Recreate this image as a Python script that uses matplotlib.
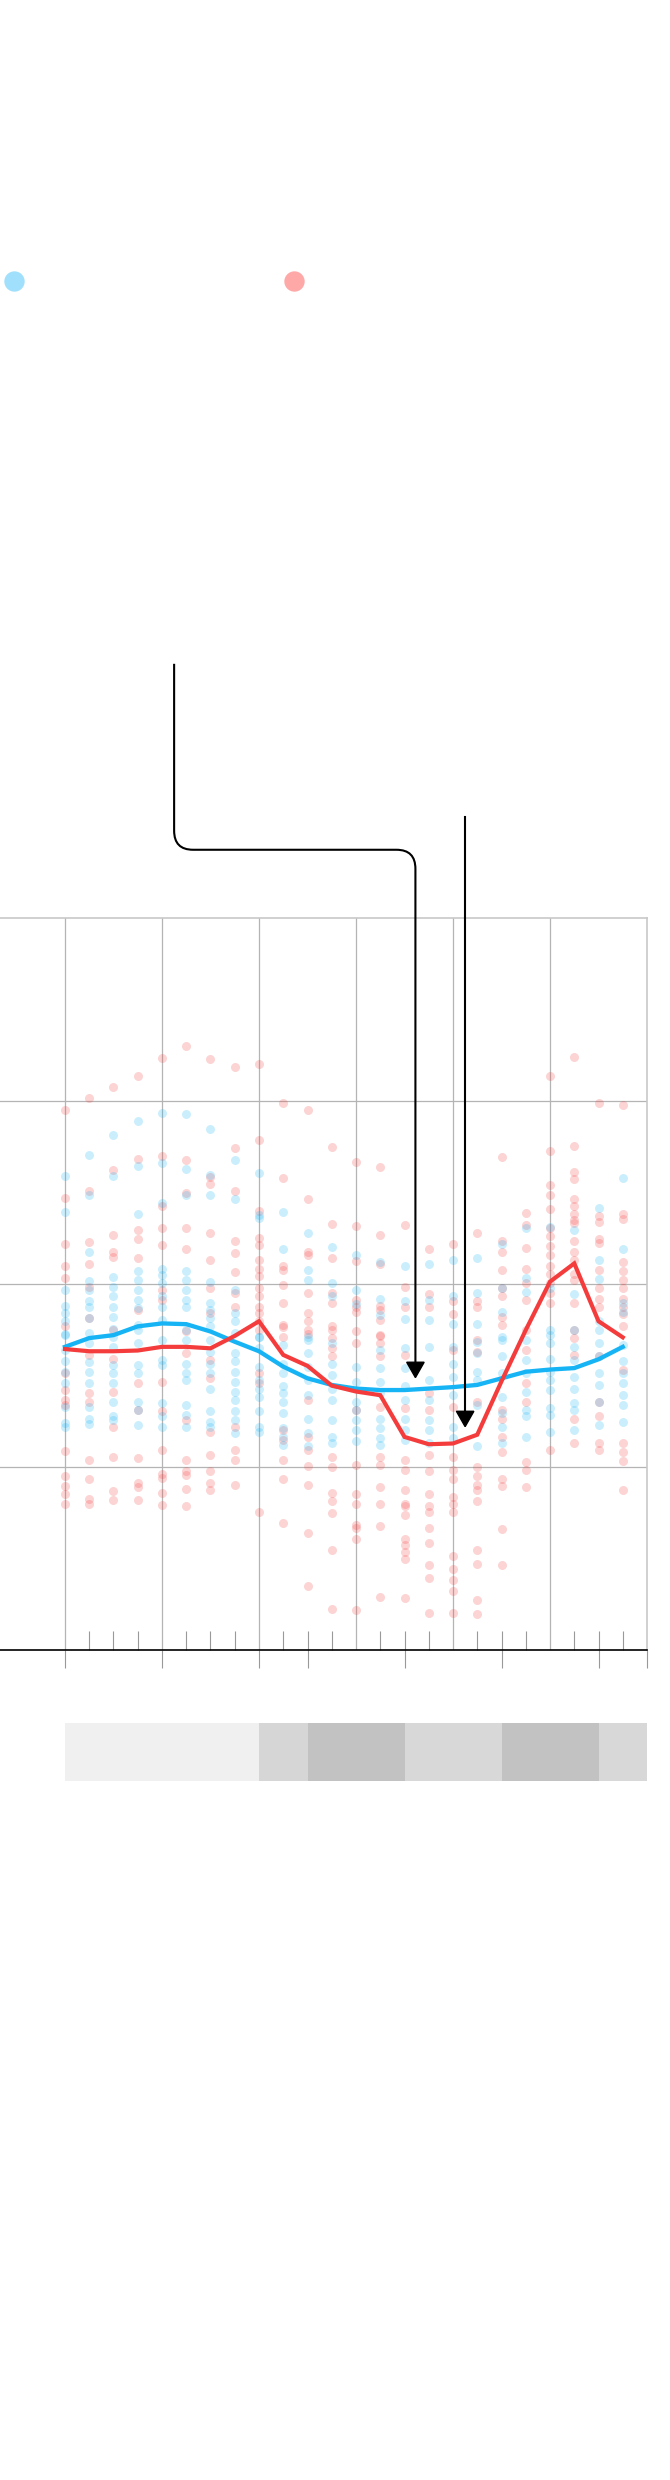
import numpy as np
import matplotlib
matplotlib.use("Agg")
from matplotlib import pyplot as plt
from matplotlib.path import Path
from matplotlib.patches import PathPatch, Polygon

# hourly averages
hours = np.arange(24)
blue_line = [41.4, 42.6, 43.0, 44.2, 44.6, 44.5, 43.5, 42.1, 40.8, 38.7, 37.1, 36.2,
             35.7, 35.5, 35.5, 35.7, 35.9, 36.2, 37.1, 38.0, 38.3, 38.5, 39.7, 41.4]
red_line = [41.1, 40.8, 40.8, 40.9, 41.4, 41.4, 41.2, 42.9, 44.9, 40.3, 38.8, 36.1,
            35.3, 34.8, 29.1, 28.1, 28.2, 29.4, 36.7, 43.7, 50.3, 52.8, 44.9, 42.7]

# individual readings per hour
red_pts = [
    [73.7, 61.7, 55.5, 52.4, 50.8, 44.2, 37.8, 35.5, 34.1, 33.5, 27.2, 23.8, 22.4, 21.3, 20.0],
    [75.4, 62.7, 55.7, 52.7, 49.6, 45.3, 40.3, 35.1, 33.9, 26.0, 23.3, 20.6, 20.0],
    [76.9, 65.5, 56.7, 54.3, 53.7, 43.7, 39.8, 35.3, 30.5, 26.4, 21.7, 20.5],
    [78.4, 67.1, 57.3, 56.1, 53.6, 46.4, 36.4, 32.8, 26.2, 22.8, 22.3, 20.5],
    [80.9, 67.5, 60.7, 57.7, 55.3, 49.2, 47.8, 36.6, 32.6, 27.3, 24.1, 23.5, 21.5, 19.8],
    [82.5, 66.9, 62.4, 57.7, 54.7, 43.5, 40.5, 31.4, 26.0, 24.4, 23.9, 22.0, 19.6],
    [80.7, 64.6, 63.6, 57.0, 53.3, 49.4, 46.0, 39.6, 37.1, 29.8, 26.6, 24.4, 22.8, 21.9],
    [79.6, 68.5, 62.7, 55.9, 54.2, 51.6, 48.7, 46.9, 30.5, 27.3, 25.9, 22.5],
    [80.0, 69.7, 59.9, 56.3, 55.3, 53.2, 52.1, 51.1, 49.5, 48.4, 46.9, 46.0, 44.9, 43.7,
     37.8, 36.4, 18.8],
    [74.7, 64.5, 52.4, 51.9, 49.9, 47.4, 44.4, 44.1, 42.8, 30.0, 28.7, 26.0, 23.3, 17.3],
    [73.7, 61.6, 54.4, 54.0, 48.7, 46.0, 44.9, 43.7, 43.2, 34.1, 29.1, 27.3, 25.1, 22.5,
     16.0, 8.8],
    [68.7, 58.2, 53.6, 48.7, 47.4, 44.2, 42.6, 43.7, 41.2, 40.1, 26.3, 25.0, 21.4, 20.4,
     18.7, 13.6, 5.6],
    [66.7, 57.9, 53.1, 47.8, 46.9, 46.2, 43.5, 41.9, 32.8, 25.3, 21.3, 20.0, 17.1, 16.6,
     15.2, 5.5],
    [65.9, 56.7, 52.7, 47.0, 46.4, 45.1, 42.9, 43.0, 41.9, 40.1, 33.2, 26.4, 25.3, 22.3,
     20.0, 16.9, 7.2],
    [58.0, 49.6, 46.8, 40.3, 33.0, 26.0, 24.6, 21.9, 20.0, 19.6, 18.4, 15.1, 14.4, 13.4,
     12.4, 7.1],
    [54.7, 48.6, 46.8, 35.1, 32.8, 26.6, 24.4, 21.3, 19.6, 18.9, 16.6, 14.6, 11.6, 9.8, 5.0],
    [55.5, 47.6, 45.9, 41.0, 33.2, 26.4, 24.6, 23.4, 20.9, 20.0, 18.9, 12.8, 11.0, 9.6,
     8.1, 5.0],
    [57.0, 47.6, 46.9, 42.3, 40.7, 33.9, 25.0, 23.7, 22.5, 21.9, 20.4, 13.7, 11.8, 6.8, 4.9],
    [67.4, 55.8, 54.3, 51.9, 49.4, 48.3, 45.5, 44.4, 32.8, 31.6, 29.1, 27.1, 23.4, 22.4,
     16.5, 11.6],
    [59.7, 58.0, 54.9, 52.1, 50.1, 47.8, 43.7, 41.0, 36.4, 33.9, 25.7, 24.6, 22.3],
    [78.4, 68.2, 63.5, 62.2, 60.2, 57.7, 56.5, 55.2, 54.0, 52.5, 51.4, 50.1, 48.7, 47.4, 27.3],
    [81.0, 68.8, 65.3, 64.3, 61.6, 60.7, 59.5, 58.7, 58.3, 55.9, 54.4, 53.2, 51.4, 50.5,
     47.4, 43.7, 42.6, 40.3, 31.6, 28.2],
    [74.7, 59.3, 58.4, 56.1, 55.6, 51.9, 49.4, 48.0, 46.9, 40.1, 33.9, 31.9, 28.2, 27.3],
    [74.5, 59.6, 58.8, 53.0, 51.8, 50.5, 49.5, 48.0, 46.9, 45.9, 44.2, 38.2, 28.2, 27.1,
     25.8, 21.9],
]
blue_pts = [
    [64.7, 59.8, 49.1, 47.0, 46.0, 44.9, 43.0, 43.2, 41.0, 39.4, 38.0, 36.4, 33.2, 31.0, 30.5],
    [67.6, 62.1, 54.4, 50.4, 49.2, 47.6, 46.9, 45.3, 43.3, 41.9, 39.3, 38.0, 36.4, 33.2, 31.6, 30.8],
    [70.4, 64.7, 50.9, 49.6, 48.3, 46.9, 45.5, 43.9, 42.8, 41.4, 38.9, 37.8, 36.4, 33.9, 31.9, 31.4],
    [72.3, 66.1, 59.5, 51.7, 50.5, 49.2, 47.8, 46.7, 44.4, 43.7, 41.9, 38.9, 37.8, 33.9, 32.8, 30.7],
    [73.4, 66.5, 61.1, 52.0, 51.2, 50.1, 48.3, 46.9, 45.1, 42.3, 39.6, 38.9, 33.7, 31.9, 30.5],
    [73.2, 65.7, 62.1, 51.8, 50.5, 49.2, 47.8, 46.9, 43.7, 42.3, 39.1, 37.8, 36.9, 33.5, 32.1, 30.5],
    [71.1, 64.9, 62.2, 50.3, 47.4, 46.4, 45.3, 44.2, 42.3, 40.7, 39.1, 37.8, 35.7, 32.6, 31.2, 30.5],
    [66.9, 61.6, 49.2, 46.0, 44.9, 43.3, 40.5, 39.4, 38.0, 36.6, 35.3, 34.1, 32.6, 31.4, 29.6],
    [65.2, 59.4, 59.0, 42.8, 42.8, 41.2, 38.7, 36.9, 35.7, 34.6, 32.6, 30.5, 29.8],
    [59.8, 54.8, 41.7, 39.1, 37.8, 36.0, 35.1, 33.9, 32.3, 30.3, 29.1, 28.0],
    [56.9, 51.9, 50.6, 42.8, 42.3, 40.5, 38.7, 36.9, 34.8, 31.6, 29.6, 27.8],
    [55.1, 50.1, 48.4, 41.9, 39.1, 37.6, 35.7, 34.1, 31.4, 29.1, 28.2],
    [54.0, 49.2, 47.2, 38.7, 36.6, 33.9, 32.8, 31.4, 30.0, 28.5],
    [53.0, 48.0, 45.8, 41.0, 38.5, 36.6, 35.1, 31.6, 30.3, 28.9, 28.0],
    [52.5, 47.7, 45.2, 41.2, 38.5, 36.0, 34.1, 31.6, 30.0, 28.7],
    [52.7, 47.8, 45.1, 41.4, 36.9, 34.1, 31.4, 30.0, 28.2],
    [53.3, 48.3, 44.5, 41.4, 39.1, 37.3, 34.8, 30.5, 28.9],
    [53.6, 48.8, 44.5, 42.1, 40.5, 38.0, 36.9, 33.5, 27.8],
    [55.4, 49.4, 46.2, 42.8, 42.3, 40.1, 37.8, 34.6, 32.3, 30.5, 28.2],
    [57.7, 50.8, 48.9, 42.3, 39.6, 37.8, 35.3, 32.8, 31.9, 29.1],
    [57.8, 49.4, 43.0, 43.7, 41.9, 39.8, 38.0, 36.9, 35.5, 33.0, 32.1, 29.8],
    [57.3, 48.6, 43.7, 41.4, 39.6, 37.3, 35.7, 33.7, 32.8, 30.0],
    [60.4, 53.3, 50.7, 44.9, 43.7, 41.9, 40.1, 37.8, 36.2, 33.9, 30.7],
    [64.5, 54.7, 47.4, 46.2, 41.7, 39.4, 37.8, 36.4, 34.8, 33.5, 31.2],
]

# shaded strip under the chart
band_edges = [0, 8, 10, 14, 18, 22, 24]
band_colors = ["#f0f0f0", "#d6d6d6", "#c2c2c2", "#d8d8d8", "#c2c2c2", "#d8d8d8"]
low_ticks = [0, 4, 8, 10, 14, 18, 22, 24]

BLUE = "#16b4f5"
RED = "#f43c3c"

fig = plt.figure(figsize=(6.7, 24.8), dpi=100)
ax = fig.add_axes([0, 0.3347, 0.9657, 0.2952])
ax.set_xlim(-2.68, 24)
ax.set_ylim(0, 100)

for y in [25, 50, 75]:
    ax.axhline(y, color="#b4b4b4", lw=0.9, zorder=0)
for x in range(0, 24, 4):
    ax.axvline(x, color="#b4b4b4", lw=0.9, zorder=0)

for h in hours:
    ax.scatter(np.full(len(red_pts[h]), h), red_pts[h], s=42, color=RED,
               alpha=0.22, linewidths=0, zorder=2)
    ax.scatter(np.full(len(blue_pts[h]), h), blue_pts[h], s=42, color=BLUE,
               alpha=0.22, linewidths=0, zorder=2)

ax.plot(hours, blue_line, color=BLUE, lw=3.1, zorder=4, solid_joinstyle="miter")
ax.plot(hours, red_line, color=RED, lw=3.0, zorder=5, solid_joinstyle="miter")

ax.spines["left"].set_visible(False)
ax.spines["top"].set_color("#c8c8c8")
ax.spines["right"].set_color("#c8c8c8")
ax.spines["top"].set_linewidth(1.2)
ax.spines["right"].set_linewidth(1.2)
ax.spines["bottom"].set_color("black")
ax.spines["bottom"].set_linewidth(1.2)
ax.spines["bottom"].set_zorder(6)

ax.set_yticks([])
ax.xaxis.remove_overlapping_locs = False
ax.set_xticks(low_ticks)
ax.set_xticks([h for h in hours if h % 4], minor=True)
ax.tick_params(axis="x", which="major", direction="out", length=13, width=0.8,
               color="#999999", labelbottom=False)
ax.tick_params(axis="x", which="minor", direction="in", length=13.5, width=0.8,
               color="#999999")

# annotation arrows
rx, ry = 0.78, 2.6
a1_x0, a1_top, a1_mid, a1_x1, a1_tip = 4.5, 134.7, 109.3, 14.45, 37.2
a2_x, a2_top, a2_tip = 16.5, 113.8, 30.5
head_h, head_w = 2.1, 0.36

verts = [(a1_x0, a1_top), (a1_x0, a1_mid + ry), (a1_x0, a1_mid), (a1_x0 + rx, a1_mid),
         (a1_x1 - rx, a1_mid), (a1_x1, a1_mid), (a1_x1, a1_mid - ry),
         (a1_x1, a1_tip + head_h)]
codes = [Path.MOVETO, Path.LINETO, Path.CURVE3, Path.CURVE3,
         Path.LINETO, Path.CURVE3, Path.CURVE3, Path.LINETO]
ax.add_patch(PathPatch(Path(verts, codes), fill=False, color="black", lw=1.5,
                       clip_on=False, zorder=7))
ax.plot([a2_x, a2_x], [a2_top, a2_tip + head_h], color="black", lw=1.5,
        clip_on=False, zorder=7)
for tx, ty in [(a1_x1, a1_tip), (a2_x, a2_tip)]:
    ax.add_patch(Polygon([(tx - head_w, ty + head_h), (tx + head_w, ty + head_h), (tx, ty)],
                         closed=True, color="black", clip_on=False, zorder=7))

# strip of shaded periods
bx = fig.add_axes([0, 0.2819, 0.9657, 0.0234])
bx.set_xlim(-2.68, 24)
bx.set_ylim(0, 1)
bx.barh(0.5, np.diff(band_edges), left=band_edges[:-1], height=1,
        color=band_colors, linewidth=0)
bx.axis("off")

# legend markers
lg = fig.add_axes([0, 0, 1, 1], zorder=-1)
lg.set_xlim(0, 670)
lg.set_ylim(2480, 0)
lg.axis("off")
lg.scatter([14], [281], s=215, color="#a0e0fc", linewidths=0)
lg.scatter([294], [281], s=215, color="#ffa8a8", linewidths=0)

fig.savefig("out.png", dpi=100)
